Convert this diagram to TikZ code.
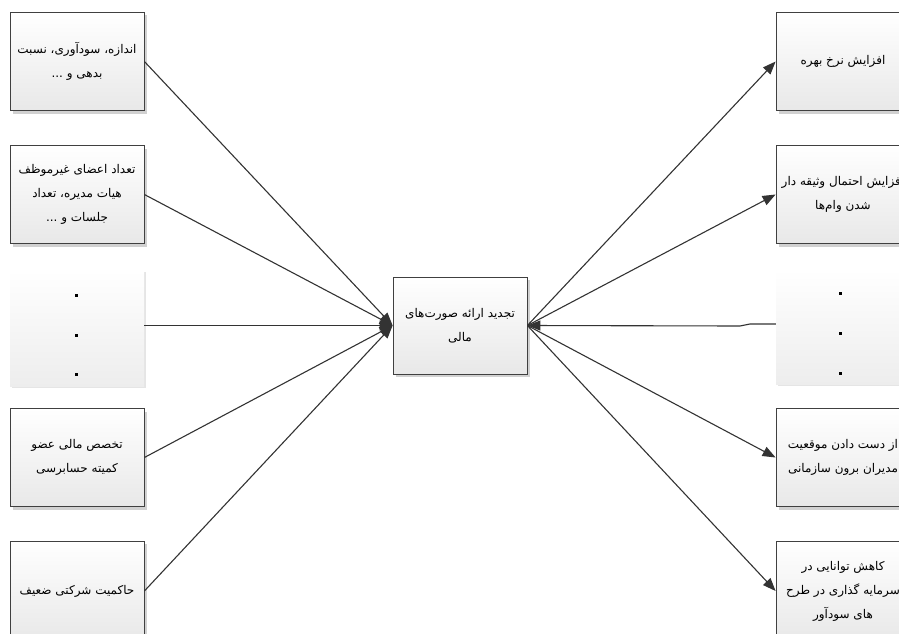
\documentclass[tikz,border=0pt]{standalone}
\usepackage{fontspec}
\newfontfamily\arabicfont[Script=Arabic]{DejaVu Sans}
\TeXXeTstate=1
\usetikzlibrary{arrows.meta,shadows}
\begin{document}
\begin{tikzpicture}[x=1pt,y=-1pt,
  box/.style={draw=black!75, line width=0.8pt, top color=white, bottom color=black!9,
    minimum width=134pt, minimum height=98pt, inner sep=2pt, align=center,
    font=\arabicfont\fontsize{12}{24}\selectfont,
    drop shadow={shadow xshift=3pt, shadow yshift=-3pt, fill=black!18, opacity=1}},
  dotbox/.style={draw=none, top color=white, bottom color=black!7,
    minimum width=134pt, minimum height=116pt,
    drop shadow={shadow xshift=2pt, shadow yshift=-2pt, fill=black!10, opacity=1}},
  conn/.style={draw=black!80, line width=1.1pt, -{Triangle[length=13pt,width=10pt]}},
  dotmark/.style={fill=black}
]
\path[use as bounding box, clip] (0,0) rectangle (899,634);

% left boxes
\node[box] (L1) at (77,61.5) {\beginR اندازه، سودآوری، نسبت\endR\\\beginR بدهی و ...\endR};
\node[box] (L2) at (77,194.5) {\beginR تعداد اعضای غیرموظف\endR\\\beginR هیات مدیره، تعداد\endR\\\beginR جلسات و ...\endR};
\node[dotbox] (L3) at (77,328) {};
\node[box] (L4) at (77,457.5) {\beginR تخصص مالی عضو\endR\\\beginR کمیته حسابرسی\endR};
\node[box, minimum height=100pt] (L5) at (77,591) {\beginR حاکمیت شرکتی ضعیف\endR};

% center
\node[box, minimum height=97pt] (C) at (460,325.5) {\beginR تجدید ارائه صورت‌های\endR\\\beginR مالی\endR};

% right boxes
\node[box] (R1) at (843,61.5) {\beginR افزایش نرخ بهره\endR};
\node[box] (R2) at (843,194.5) {\beginR افزایش احتمال وثیقه دار\endR\\\beginR شدن وام‌ها\endR};
\node[dotbox, minimum height=115pt] (R3) at (843,326.5) {};
\node[box] (R4) at (843,457.5) {\beginR از دست دادن موقعیت\endR\\\beginR مدیران برون سازمانی\endR};
\node[box, minimum height=100pt] (R5) at (843,591) {\beginR کاهش توانایی در\endR\\\beginR سرمایه گذاری در طرح\endR\\\beginR های سودآور\endR};

% dots
\foreach \yy in {295,335,374} \fill[dotmark] (74.5,\yy-1.5) rectangle ++(3,3);
\foreach \yy in {293,333,373} \fill[dotmark] (838.5,\yy-1.5) rectangle ++(3,3);

% connectors left -> center
\draw[conn] (L1.east) -- (C.west);
\draw[conn] (L2.east) -- (C.west);
\draw[conn] (L3.east |- C.west) -- (C.west);
\draw[conn] (L4.east) -- (C.west);
\draw[conn] (L5.east) -- (C.west);

% connectors center -> right
\draw[conn] (C.east) -- (R1.west);
\draw[conn] (C.east) -- (R2.west);
\draw[conn] (C.east) -- (R4.west);
\draw[conn] (C.east) -- (R5.west);
\coordinate (j1) at (750,324);
\coordinate (j2) at (740,326);
\draw[conn] (R3.west |- j1) -- (j1) -- (j2) -- (C.east);
\end{tikzpicture}
\end{document}
